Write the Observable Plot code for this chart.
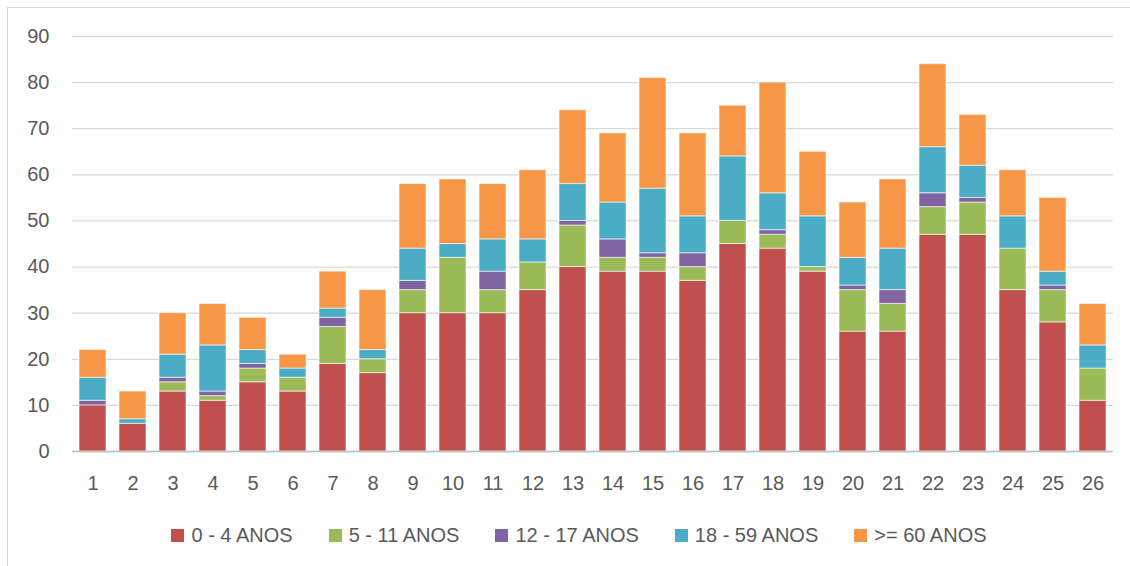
<!DOCTYPE html>
<html>
<head>
<meta charset="utf-8">
<script src="https://cdn.jsdelivr.net/npm/d3@7"></script>
<script src="https://cdn.jsdelivr.net/npm/@observablehq/plot@0.6"></script>
<style>
  html, body { margin: 0; padding: 0; background: #fff; }
  #wrap { position: relative; width: 1130px; height: 566px; overflow: hidden; font-family: "Liberation Sans", Arial, sans-serif; }
  #border { position: absolute; left: 7px; top: 7px; width: 1200px; height: 700px; border: 1px solid #d9d9d9; box-sizing: border-box; pointer-events: none; }
  #chart svg { display: block; }
  #legend { position: absolute; left: 0; top: 523px; width: 1130px; box-sizing: border-box; padding-left: 28px; height: 24px; display: flex; justify-content: center; align-items: center; gap: 36px; font-size: 20px; color: #595959; }
  .item { display: flex; align-items: center; white-space: nowrap; }
  .sw { width: 13px; height: 13px; margin-right: 7px; }
</style>
</head>
<body>
<div id="wrap">
  <div id="chart"></div>
  <div id="legend"></div>
  <div id="border"></div>
</div>
<script>
const categories = ["1","2","3","4","5","6","7","8","9","10","11","12","13","14","15","16","17","18","19","20","21","22","23","24","25","26"];
const seriesNames = ["0 - 4 ANOS", "5 - 11 ANOS", "12 - 17 ANOS", "18 - 59 ANOS", ">= 60 ANOS"];
const age0to4   = [10, 6, 13, 11, 15, 13, 19, 17, 30, 30, 30, 35, 40, 39, 39, 37, 45, 44, 39, 26, 26, 47, 47, 35, 28, 11];
const age5to11  = [ 0, 0,  2,  1,  3,  3,  8,  3,  5, 12,  5,  6,  9,  3,  3,  3,  5,  3,  1,  9,  6,  6,  7,  9,  7,  7];
const age12to17 = [ 1, 0,  1,  1,  1,  0,  2,  0,  2,  0,  4,  0,  1,  4,  1,  3,  0,  1,  0,  1,  3,  3,  1,  0,  1,  0];
const age18to59 = [ 5, 1,  5, 10,  3,  2,  2,  2,  7,  3,  7,  5,  8,  8, 14,  8, 14,  8, 11,  6,  9, 10,  7,  7,  3,  5];
const age60plus = [ 6, 6,  9,  9,  7,  3,  8, 13, 14, 14, 12, 15, 16, 15, 24, 18, 11, 24, 14, 12, 15, 18, 11, 10, 16,  9];
const colors = ["#C0504D", "#9BBB59", "#8064A2", "#4BACC6", "#F79646"];
const yTicks = [0, 10, 20, 30, 40, 50, 60, 70, 80, 90];

const seriesValues = [age0to4, age5to11, age12to17, age18to59, age60plus];
const data = [];
categories.forEach((c, i) => {
  seriesNames.forEach((s, j) => {
    data.push({cat: c, series: s, value: seriesValues[j][i]});
  });
});

const chart = Plot.plot({
  width: 1130,
  height: 510,
  marginLeft: 72,
  marginRight: 17,
  marginTop: 36,
  marginBottom: 59,
  style: { fontFamily: "'Liberation Sans', Arial, sans-serif", fontSize: "20px", color: "#595959", background: "transparent" },
  x: { domain: categories, paddingInner: 0.33, paddingOuter: 0.165, label: null },
  y: { domain: [0, 90], label: null },
  color: { domain: seriesNames, range: colors },
  marks: [
    Plot.ruleY(yTicks, { stroke: "#d9d9d9", strokeWidth: 1.3 }),
    Plot.barY(data, { x: "cat", y: "value", fill: "series", order: seriesNames, stroke: "#ffffff", strokeOpacity: 0.6, strokeWidth: 1 }),
    Plot.ruleY([0], { stroke: "#bfbfbf", strokeWidth: 1.5 }),
    Plot.axisY({ ticks: yTicks, tickSize: 0, tickPadding: 23, label: null }),
    Plot.axisX({ tickSize: 0, tickPadding: 24, label: null })
  ]
});
document.getElementById("chart").appendChild(chart);

const legend = document.getElementById("legend");
seriesNames.forEach((s, j) => {
  const it = document.createElement("div");
  it.className = "item";
  const sw = document.createElement("span");
  sw.className = "sw";
  sw.style.background = colors[j];
  const tx = document.createElement("span");
  tx.textContent = s;
  it.appendChild(sw);
  it.appendChild(tx);
  legend.appendChild(it);
});
</script>
</body>
</html>
